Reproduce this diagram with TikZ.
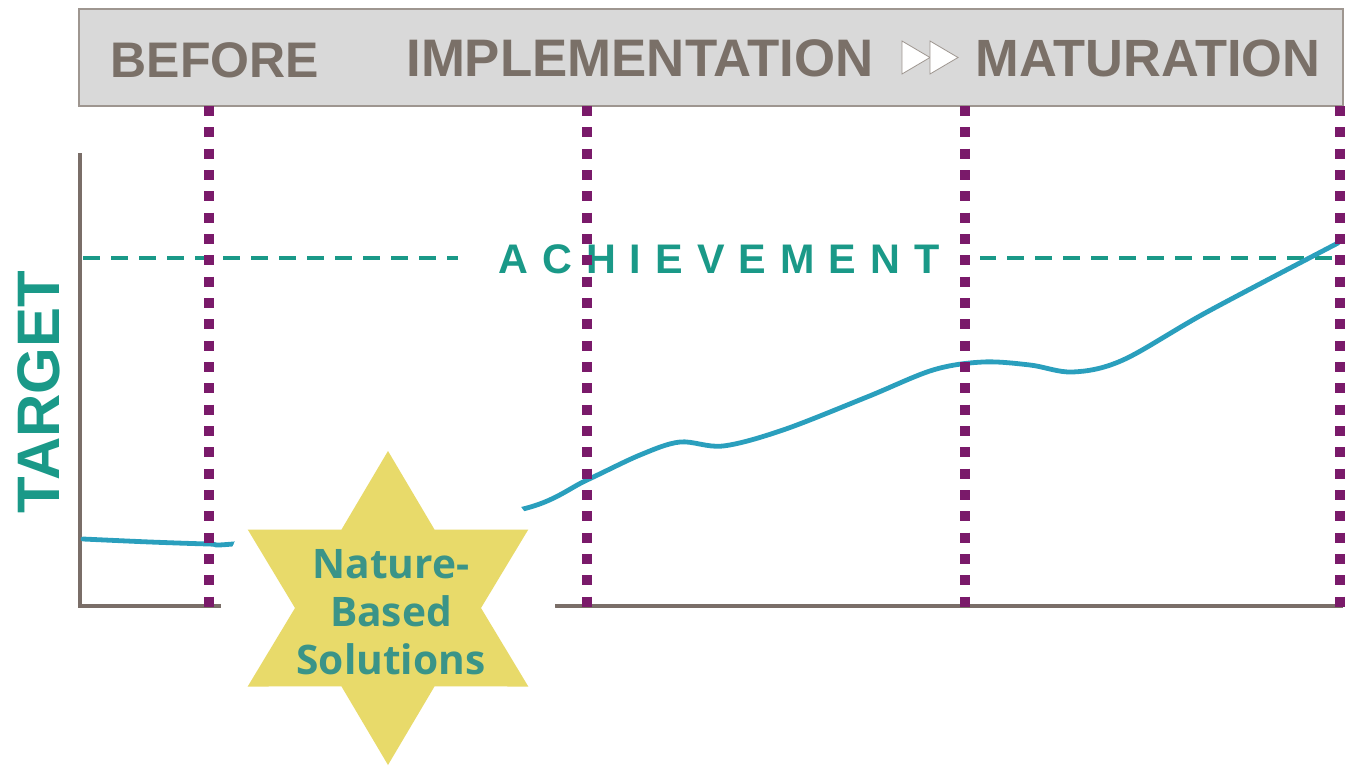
\documentclass[tikz,border=0pt]{standalone}
\usepackage{fontspec}
\setmainfont{Liberation Sans}
\newfontfamily\nbsfont{Open Sans}
\usepackage{tikz}

\definecolor{headgray}{HTML}{7A7068}
\definecolor{boxfill}{HTML}{D9D9D9}
\definecolor{boxgray}{HTML}{9E9690}
\definecolor{goalteal}{HTML}{1A9988}
\definecolor{trendblue}{HTML}{2A9FBD}
\definecolor{phasepurple}{HTML}{7A1A6A}
\definecolor{axisgray}{HTML}{7A6E68}
\definecolor{staryellow}{HTML}{E8DA6A}
\definecolor{startext}{HTML}{3A9488}

\begin{document}
\begin{tikzpicture}[x=0.75pt, y=-0.75pt,
		head node/.style={anchor=base, inner sep=0pt, text=headgray, font=\fontsize{37.5}{40}\selectfont\bfseries},
		phase line/.style={draw=phasepurple, line width=7.5pt, dash pattern=on 7.5pt off 8.5pt},
		goal line/.style={draw=goalteal, line width=2.5pt, dash pattern=on 12.75pt off 8.25pt},
		axis line/.style={draw=axisgray, line width=2.6pt},
		trend/.style={draw=trendblue, line width=3.6pt, line cap=round},
		ff tip/.style={draw=boxgray, fill=white, line width=0.6pt, line join=miter}]
	\useasboundingbox (0,0) rectangle (1345,767);
	
	\node[draw=boxgray, fill=boxfill, line width=1.2pt, minimum width=948pt, minimum height=72.75pt, inner sep=0pt] (head) at (711,57.5) {};
	\node[head node] (before) at (215,78) {BEFORE};
	\node[head node, font=\fontsize{39.6}{42}\selectfont\bfseries] (impl) at (640,77) {IMPLEMENTATION};
	\node[head node, font=\fontsize{39.3}{42}\selectfont\bfseries] (mat) at (1148,76) {MATURATION};
	\draw[ff tip] (902,41) -- (930,57.5) -- (902,74) -- cycle;
	\draw[ff tip] (930,41) -- (958,57.5) -- (930,74) -- cycle;
	
	\coordinate (o) at (80,606);
	\coordinate (ytop) at (80,153);
	\coordinate (xend) at (1343,606);
	\draw[axis line] (ytop) -- (o) -- (xend);
	
	\node[rotate=90, anchor=base, inner sep=0pt, text=goalteal, font=\fontsize{45}{50}\selectfont\bfseries] (target) at (59,392) {TARGET};
	
	\coordinate (g1) at (83,258);
	\coordinate (g2) at (1340,258);
	\draw[goal line] (g1) -- (g2);
	\node[anchor=base west, fill=white, inner xsep=30pt, inner ysep=4pt, text=goalteal,
		font=\fontsize{31}{33}\selectfont\bfseries\addfontfeature{LetterSpace=34}] (ach) at (458,273) {ACHIEVEMENT};
	
	\draw[trend] plot[smooth, tension=0.55] coordinates {(83,539) (150,542) (209,544) (233,544) (380,530) (523,509) (587,480) (640,455) (680,442) (723,446) (783,430) (867,397) (933,370) (983,362) (1030,365) (1073,372) (1123,360) (1207,312) (1338,243)};
	
	\fill[white] (388,608) circle[radius=167];
	\fill[staryellow, shift={(388,608)}] (90:157) \foreach \a in {90,150,...,390} { -- (\a+30:93 and 90.6) -- (\a+60:162 and 157)} -- cycle;
	\node[align=center, inner sep=0pt, text=startext, font=\nbsfont\bfseries\fontsize{30.5}{36}\selectfont] (nbs) at (391,612) {Nature-\\Based\\Solutions};
	
	\foreach \x [count=\i] in {209,587,965,1340} {
		\coordinate (top\i) at (\x,106);
		\coordinate (bot\i) at (\x,607);
		\draw[phase line] (top\i) -- (bot\i);
	}
\end{tikzpicture}
\end{document}
